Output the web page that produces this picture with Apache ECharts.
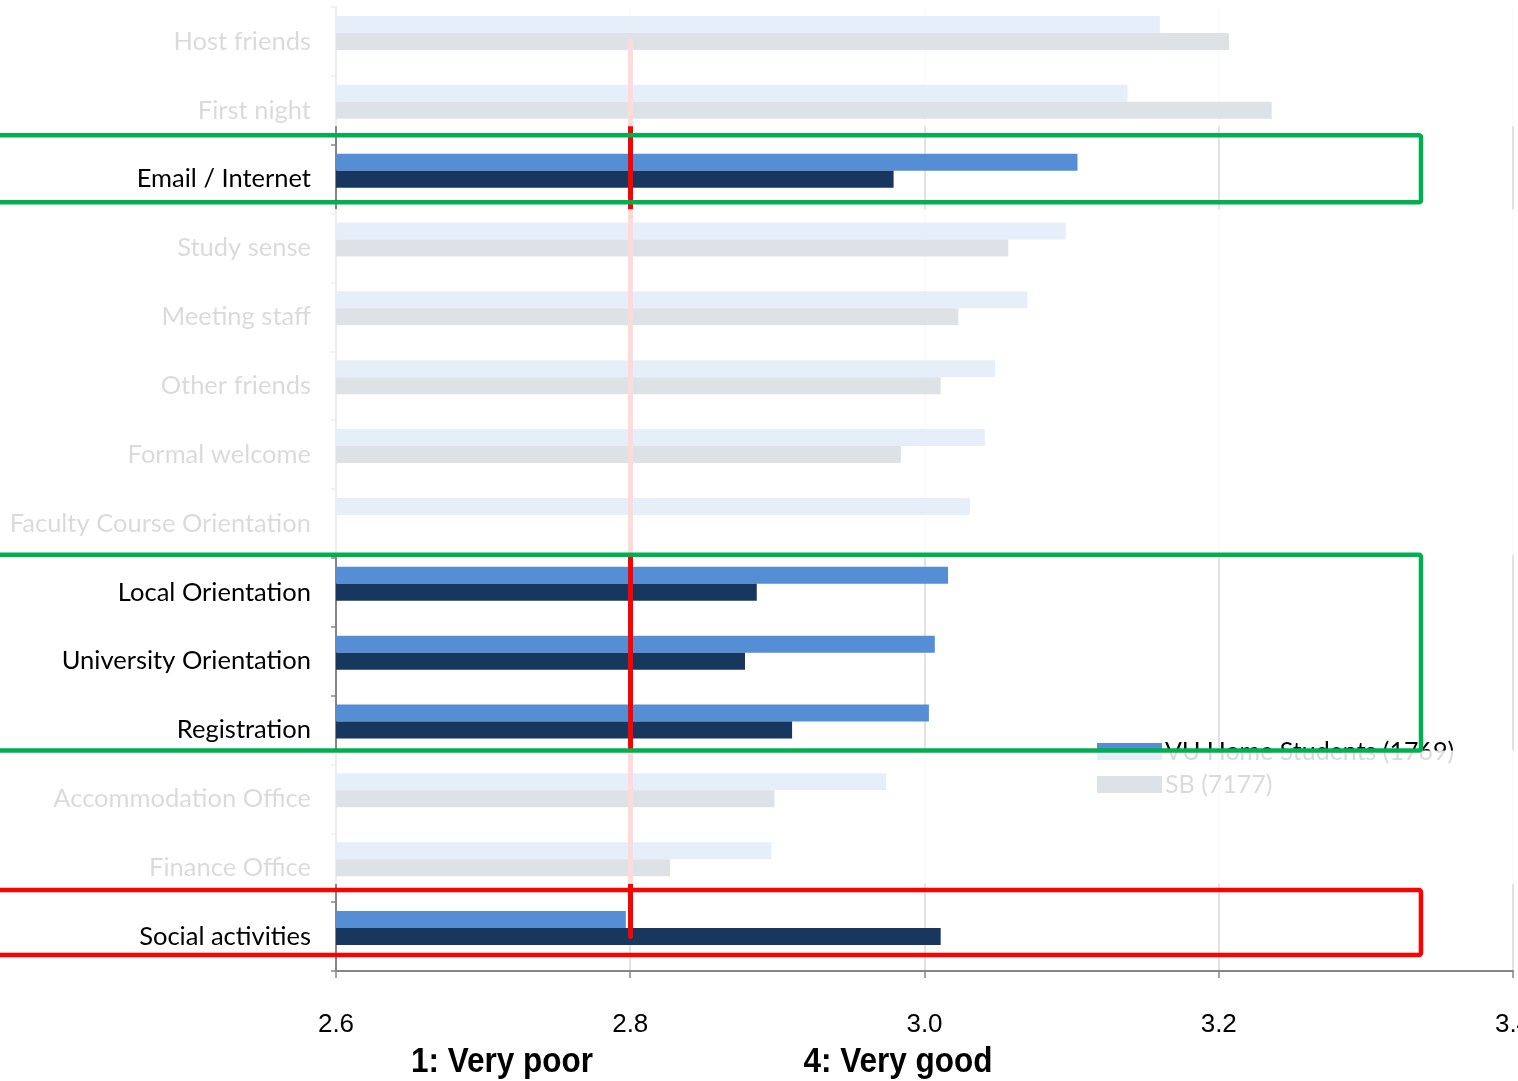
<!DOCTYPE html>
<html><head><meta charset="utf-8">
<script src="https://cdn.jsdelivr.net/npm/echarts@6/dist/echarts.min.js"></script>
<style>html,body{margin:0;padding:0;background:#fff;overflow:hidden}#c{width:1518px;height:1081px}</style>
</head><body><div id="c"></div>
<script>
// ---- data ----
const categories = ['Host friends','First night','Email / Internet','Study sense','Meeting staff','Other friends','Formal welcome','Faculty Course Orientation','Local Orientation','University Orientation','Registration','Accommodation Office','Finance Office','Social activities'];
const vuHome = [3.160,3.138,3.104,3.096,3.070,3.048,3.041,3.031,3.016,3.007,3.003,2.974,2.896,2.797];
const sb     = [3.207,3.236,2.979,3.057,3.023,3.011,2.984,null,2.886,2.878,2.910,2.898,2.827,3.011];
const seriesNames = ['VU Home Students (1769)','SB (7177)'];
const xTickValues = [2.6,2.8,3.0,3.2,3.4];
const referenceValue = 2.8;
const axisTitles = ['1: Very poor','4: Very good'];
const highlightGroups = [
  {from:'Email / Internet', to:'Email / Internet', color:'#00B050'},
  {from:'Local Orientation', to:'Registration', color:'#00B050'},
  {from:'Social activities', to:'Social activities', color:'#FF0000'}
];
// ---- styling (pixel pads of slide annotation boxes) ----
const boxPads = [
  {top:44, bottom:23, fadeTop:9, fadeBottom:7},
  {top:37.5, bottom:20.5, fadeTop:0, fadeBottom:0},
  {top:46.5, bottom:18.5, fadeTop:6, fadeBottom:0}
];
const LABEL_FONT = 'Lato, "Open Sans", sans-serif';
const NUM_FONT = '"Liberation Sans", Arial, sans-serif';

const chart = echarts.init(document.getElementById('c'), null, {renderer:'canvas'});
chart.setOption({
  animation:false,
  backgroundColor:'#fff',
  grid:{left:336, right:5, top:7, bottom:110, containLabel:false, outerBoundsMode:'none'},
  legend:{
    data:seriesNames, orient:'vertical', left:1092, top:734,
    itemWidth:65, itemHeight:17, itemGap:8, icon:'rect',
    textStyle:{fontFamily:LABEL_FONT, fontSize:25, color:'#000', padding:[0,0,0,-2]}
  },
  xAxis:{
    type:'value', min:xTickValues[0], max:xTickValues[xTickValues.length-1], interval:0.2,
    axisLine:{show:true, lineStyle:{color:'#868686', width:2}},
    axisTick:{show:true, length:7, lineStyle:{color:'#868686', width:1.5}},
    axisLabel:{margin:41, color:'#000', fontFamily:NUM_FONT, fontSize:26, formatter:v=>v.toFixed(1), hideOverlap:false},
    splitLine:{show:true, lineStyle:{color:'#D9D9D9', width:1.5}}
  },
  yAxis:{
    type:'category', data:categories, inverse:true,
    axisLine:{show:true, lineStyle:{color:'#868686', width:2}},
    axisTick:{show:true, length:5, lineStyle:{color:'#868686', width:1.5}},
    axisLabel:{margin:25, color:'#000', fontFamily:LABEL_FONT, fontSize:25.5},
    splitLine:{show:false}
  },
  series:[
    {name:seriesNames[0], type:'bar', data:vuHome, barWidth:17, barGap:'0%',
     itemStyle:{color:'#558ED5'}},
    {name:seriesNames[1], type:'bar', data:sb, barWidth:17, barGap:'0%',
     itemStyle:{color:'#17375E'},
     markLine:{silent:true, symbol:['none','none'], label:{show:false},
       lineStyle:{color:'#FF0000', width:5, type:'solid', cap:'round', opacity:1},
       data:[[{coord:[referenceValue, categories[0]]},{coord:[referenceValue, categories[categories.length-1]]}]]}},
    {name:'', type:'bar', data:[], barWidth:17, barGap:'0%'}
  ]
});

// annotation overlay: fade everything outside highlighted groups, then draw boxes
const W = chart.getWidth(), H = chart.getHeight();
const yc = name => chart.convertToPixel({yAxisIndex:0}, categories.indexOf(name));
const boxes = highlightGroups.map((g,i)=>{
  const t = yc(g.from) - boxPads[i].top, b = yc(g.to) + boxPads[i].bottom;
  return {t, b, ft:t-boxPads[i].fadeTop, fb:b+boxPads[i].fadeBottom, color:g.color};
});
const xBoxRight = 1421;
const graphics = [];
let prev = 0;
boxes.forEach((bx,i)=>{
  graphics.push({type:'rect', z:100, silent:true, shape:{x:0, y:prev, width:W, height:Math.max(0,bx.ft-prev)},
    style:{fill:'rgba(255,255,255,0.853)'}});
  prev = (i === boxes.length-1) ? H : bx.fb;
});
boxes.forEach(bx=>{
  graphics.push({type:'rect', z:110, silent:true, shape:{x:-6, y:bx.t, width:xBoxRight+6, height:bx.b-bx.t, r:2},
    style:{fill:'none', stroke:bx.color, lineWidth:4.5}});
});
const titleXs = [502, 898];
axisTitles.forEach((t,i)=>{
  graphics.push({type:'text', z:110, x:titleXs[i], y:1062, scaleX:0.9, originX:0, originY:0,
    style:{text:t, x:0, y:0, fontFamily:NUM_FONT, fontWeight:'bold', fontSize:35, fill:'#000', align:'center', verticalAlign:'middle'}});
});
chart.setOption({graphic:{elements:graphics}});
</script></body></html>
